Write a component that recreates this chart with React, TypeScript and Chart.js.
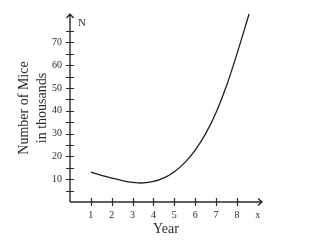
import React, { useEffect, useRef } from "react";
import { Chart, registerables } from "chart.js";

Chart.register(...registerables);

const years = [1, 1.5, 2, 2.5, 3, 3.5, 4, 4.5, 5, 5.5, 6, 6.5, 7, 7.5, 8, 8.58];
const mice = [13.1, 11.7, 10.5, 9.4, 8.6, 8.35, 9.0, 10.6, 13.3, 17.3, 22.8, 30, 39.3, 51, 65, 82.5];
const xTickValues = [1, 2, 3, 4, 5, 6, 7, 8];
const yTickValues = [5, 10, 15, 20, 25, 30, 35, 40, 45, 50, 55, 60, 65, 70, 75];
const yLabelValues = [10, 20, 30, 40, 50, 60, 70];
const xAxisEnd = 9.2;
const yAxisEnd = 82.5;
const xVarLabel = "x";
const yVarLabel = "N";
const xTitle = "Year";
const yTitle = ["Number of Mice", "in thousands"];

const SERIF = "'Liberation Serif', 'Times New Roman', serif";
const INK = "#2a2a2a";

const axesPlugin = {
  id: "mathAxes",
  afterDatasetsDraw(chart: any) {
    const { ctx } = chart;
    const xs = chart.scales.x;
    const ys = chart.scales.y;
    const x0 = xs.getPixelForValue(0);
    const y0 = ys.getPixelForValue(0);
    const xEnd = xs.getPixelForValue(xAxisEnd);
    const yEnd = ys.getPixelForValue(yAxisEnd);
    ctx.save();
    ctx.strokeStyle = INK;
    ctx.lineWidth = 1.4;
    ctx.beginPath();
    ctx.moveTo(x0, y0);
    ctx.lineTo(xEnd, y0);
    ctx.moveTo(x0, y0);
    ctx.lineTo(x0, yEnd);
    ctx.moveTo(xEnd - 4, y0 - 3.5);
    ctx.lineTo(xEnd, y0);
    ctx.lineTo(xEnd - 4, y0 + 3.5);
    ctx.moveTo(x0 - 3.5, yEnd + 4);
    ctx.lineTo(x0, yEnd);
    ctx.lineTo(x0 + 3.5, yEnd + 4);
    ctx.stroke();
    ctx.lineWidth = 1.2;
    ctx.beginPath();
    xTickValues.forEach((v) => {
      const px = Math.round(xs.getPixelForValue(v)) + 0.5;
      ctx.moveTo(px, y0 - 4);
      ctx.lineTo(px, y0 + 4);
    });
    yTickValues.forEach((v) => {
      const py = Math.round(ys.getPixelForValue(v)) + 0.5;
      ctx.moveTo(x0 - 4, py);
      ctx.lineTo(x0 + 4, py);
    });
    ctx.stroke();
    ctx.fillStyle = INK;
    ctx.font = `11px ${SERIF}`;
    ctx.textAlign = "left";
    ctx.textBaseline = "middle";
    ctx.fillText(yVarLabel, x0 + 8, ys.getPixelForValue(78.5));
    ctx.restore();
  },
};

export default function App() {
  const ref = useRef<HTMLCanvasElement>(null);
  useEffect(() => {
    if (!ref.current) return;
    const chart = new Chart(ref.current, {
      type: "line",
      data: {
        datasets: [
          {
            data: years.map((x, i) => ({ x, y: mice[i] })),
            borderColor: "#1e1e1e",
            borderWidth: 1.3,
            pointRadius: 0,
            tension: 0.4,
            fill: false,
            clip: false as any,
          },
        ],
      },
      options: {
        animation: false,
        responsive: false,
        layout: { padding: { top: 12, right: 70, left: 0, bottom: 0 } },
        plugins: { legend: { display: false }, tooltip: { enabled: false } },
        scales: {
          x: {
            type: "linear",
            min: 0,
            max: xAxisEnd,
            grid: { display: false, drawTicks: false },
            border: { display: false },
            ticks: {
              stepSize: 1,
              includeBounds: false,
              autoSkip: false,
              maxRotation: 0,
              padding: 7,
              color: INK,
              font: { family: SERIF, size: 10 },
              callback: (v: any) => {
                if (v === 9) return xVarLabel;
                return xTickValues.includes(v) ? String(v) : "";
              },
            },
            title: {
              display: true,
              text: xTitle,
              color: INK,
              font: { family: SERIF, size: 14 },
              padding: { top: 0, bottom: 3 },
            },
            afterFit: (s: any) => {
              s.height = 39;
            },
          },
          y: {
            min: 0,
            max: yAxisEnd,
            grid: { display: false, drawTicks: false },
            border: { display: false },
            ticks: {
              stepSize: 5,
              includeBounds: false,
              autoSkip: false,
              padding: 8,
              color: INK,
              font: { family: SERIF, size: 10 },
              callback: (v: any) => (yLabelValues.includes(v) ? String(v) : ""),
            },
            title: {
              display: true,
              text: yTitle,
              color: INK,
              font: { family: SERIF, size: 14, lineHeight: 1.3 },
              padding: { top: 15, bottom: 0 },
            },
            afterFit: (s: any) => {
              s.width = 70;
            },
          },
        },
      } as any,
      plugins: [axesPlugin],
    });
    return () => chart.destroy();
  }, []);
  return (
    <div style={{ position: "fixed", left: 0, top: 0, width: 332, height: 241, background: "#fff" }}>
      <canvas ref={ref} width={332} height={241} />
    </div>
  );
}
